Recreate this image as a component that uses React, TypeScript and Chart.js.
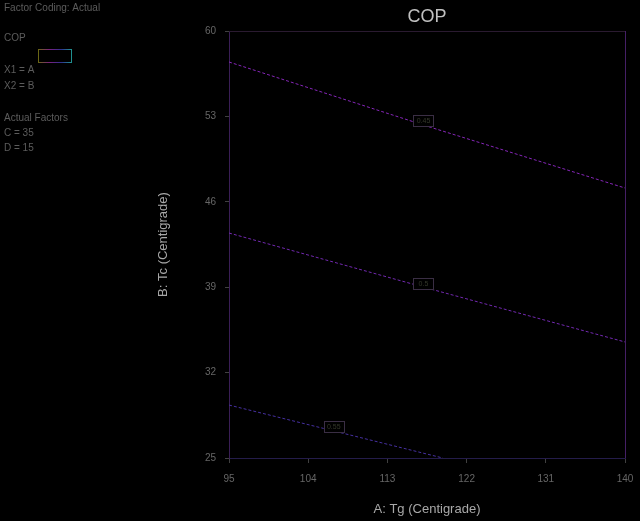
import React, { useEffect, useRef } from "react";
import { Chart, registerables } from "chart.js";

Chart.register(...registerables);

const chartTitle = "COP";
const xTitle = "A: Tg (Centigrade)";
const yTitle = "B: Tc (Centigrade)";
const xMin = 95, xMax = 140, xStep = 9;
const yMin = 25, yMax = 60, yStep = 7;

const contour1X = [95, 117.5, 140];
const contour1Y = [57.46, 52.2, 47.13];
const contour2X = [95, 117.5, 140];
const contour2Y = [43.44, 38.93, 34.51];
const contour3X = [95, 107, 119.3];
const contour3Y = [29.34, 27.2, 25];

const contourLabels = ["0.45", "0.5", "0.55"];
const labelX = [117.1, 117.1, 106.9];
const labelY = [52.62, 39.3, 27.58];

const legendLines = [
  "Factor Coding: Actual",
  "",
  "COP",
  "",
  "X1 = A",
  "X2 = B",
  "",
  "Actual Factors",
  "C = 35",
  "D = 15",
];

const toPts = (xs: number[], ys: number[]) => xs.map((x, i) => ({ x, y: ys[i] }));

export default function App() {
  const ref = useRef<HTMLCanvasElement | null>(null);
  useEffect(() => {
    document.body.style.margin = "0";
    document.body.style.background = "#000";
    const canvas = ref.current!;
    const overlay = {
      id: "overlay",
      afterDraw(chart: any) {
        const ctx = chart.ctx;
        const a = chart.chartArea;
        ctx.save();
        ctx.lineWidth = 1;
        ctx.strokeStyle = "#2a1a30";
        ctx.beginPath();
        ctx.moveTo(a.left, a.top + 0.5);
        ctx.lineTo(a.right, a.top + 0.5);
        ctx.stroke();
        ctx.strokeStyle = "#451f66";
        ctx.beginPath();
        ctx.moveTo(a.right + 0.5, a.top);
        ctx.lineTo(a.right + 0.5, a.bottom);
        ctx.stroke();
        ctx.font = "10px 'Liberation Sans', Arial, sans-serif";
        ctx.fillStyle = "#5c5c5c";
        ctx.textBaseline = "middle";
        ctx.textAlign = "left";
        const ys = [8, 23, 38, 55, 70, 86, 102, 118, 133, 148];
        legendLines.forEach((t, i) => {
          if (t) ctx.fillText(t, 4, ys[i]);
        });
        const g = ctx.createLinearGradient(38, 0, 71, 0);
        g.addColorStop(0, "#6a6a10");
        g.addColorStop(0.35, "#7a2080");
        g.addColorStop(0.7, "#303090");
        g.addColorStop(1, "#209090");
        ctx.strokeStyle = g;
        ctx.strokeRect(38.5, 49.5, 33, 13);
        const xs = chart.scales.x, yS = chart.scales.y;
        contourLabels.forEach((t, i) => {
          const cx = xs.getPixelForValue(labelX[i]);
          const cy = yS.getPixelForValue(labelY[i]);
          ctx.fillStyle = "#000";
          ctx.fillRect(cx - 10, cy - 6, 20, 12);
          ctx.strokeStyle = "#3a2e44";
          ctx.strokeRect(Math.round(cx - 10) + 0.5, Math.round(cy - 6) + 0.5, 20, 11);
          ctx.fillStyle = "#34382a";
          ctx.font = "7px 'Liberation Sans', Arial, sans-serif";
          ctx.textAlign = "center";
          ctx.fillText(t, cx, cy + 0.5);
        });
        ctx.restore();
      },
    };
    const mk = (xs: number[], ys: number[], color: string) => ({
      data: toPts(xs, ys),
      showLine: true,
      borderColor: color,
      borderWidth: 1,
      borderDash: [3, 2],
      pointRadius: 0,
      fill: false,
    });
    const chart = new Chart(canvas, {
      type: "scatter",
      data: {
        datasets: [
          mk(contour1X, contour1Y, "#8526b8"),
          mk(contour2X, contour2Y, "#7229b0"),
          mk(contour3X, contour3Y, "#4630a0"),
        ],
      },
      plugins: [overlay],
      options: {
        responsive: false,
        animation: false,
        layout: { padding: { left: 152, right: 15, top: 0, bottom: 0 } },
        plugins: {
          legend: { display: false },
          tooltip: { enabled: false },
          title: {
            display: true,
            text: chartTitle,
            fullSize: false,
            color: "#c0c0c0",
            font: { family: "'Liberation Sans', Arial, sans-serif", size: 18, weight: "normal" },
            padding: { top: 6, bottom: 3.4 },
          },
        },
        scales: {
          x: {
            type: "linear",
            min: xMin,
            max: xMax,
            afterFit: (s: any) => { s.height = 63; s.paddingRight = 0; s.paddingLeft = 0; },
            ticks: {
              stepSize: xStep,
              color: "#666666",
              font: { family: "'Liberation Sans', Arial, sans-serif", size: 10 },
              padding: 10,
              maxRotation: 0,
            },
            grid: { display: true, drawOnChartArea: false, drawTicks: true, tickLength: 5, tickColor: "#404040" },
            border: { display: true, color: "#241c4a" },
            title: {
              display: true,
              text: xTitle,
              color: "#a8a8a8",
              font: { family: "'Liberation Sans', Arial, sans-serif", size: 13 },
              padding: { top: 4, bottom: 4 },
            },
          },
          y: {
            type: "linear",
            min: yMin,
            max: yMax,
            afterFit: (s: any) => { s.width = 77; },
            ticks: {
              stepSize: yStep,
              color: "#666666",
              font: { family: "'Liberation Sans', Arial, sans-serif", size: 10 },
              padding: 9,
            },
            grid: { display: true, drawOnChartArea: false, drawTicks: true, tickLength: 4, tickColor: "#404040" },
            border: { display: true, color: "#3a1e56" },
            title: {
              display: true,
              text: yTitle,
              color: "#a8a8a8",
              font: { family: "'Liberation Sans', Arial, sans-serif", size: 13 },
              padding: { top: 4, bottom: 4 },
            },
          },
        },
      } as any,
    });
    return () => chart.destroy();
  }, []);
  return (
    <div style={{ position: "absolute", left: 0, top: 0, width: 640, height: 521, background: "#000" }}>
      <canvas ref={ref} width={640} height={521} style={{ display: "block" }} />
    </div>
  );
}
